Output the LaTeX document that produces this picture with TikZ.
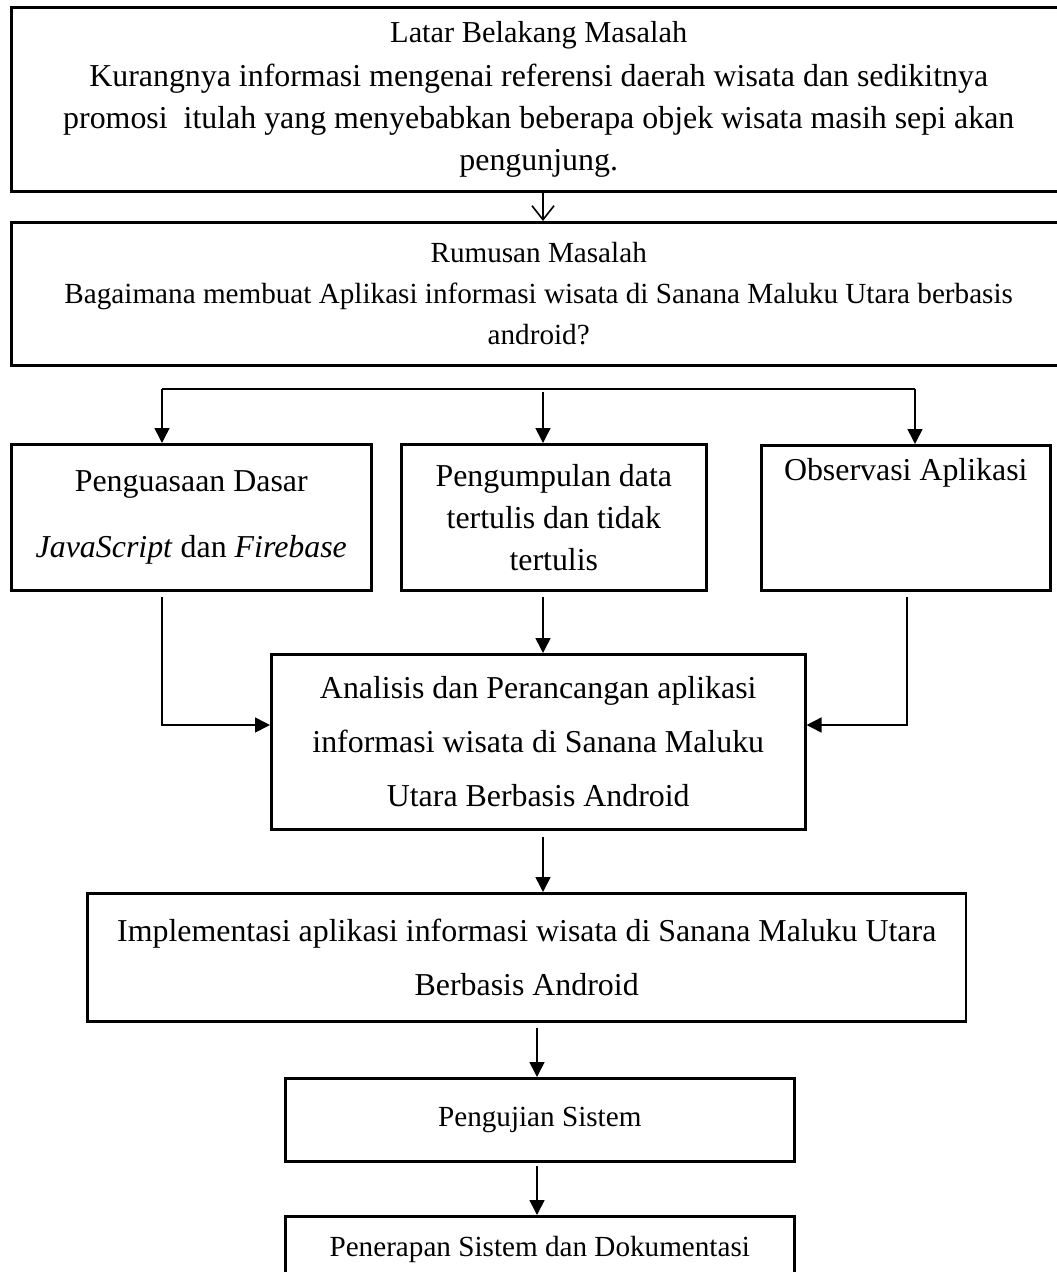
\documentclass[tikz,border=0pt]{standalone}
\usepackage{fontspec}
\setmainfont{Liberation Serif}
\usetikzlibrary{arrows.meta, positioning}

\tikzset{
  kotak/.style={draw, line width=1.5pt, inner sep=0pt, outer sep=0.75pt, anchor=north west,
    align=center, font=\fontsize{18.15}{24}\selectfont},
  kotaklebar/.style={kotak, font=\fontsize{18.15}{30.7}\selectfont},
  kotakkecil/.style={kotak, font=\fontsize{16.6}{23.4}\selectfont},
  garis/.style={line width=0.9pt},
  panah/.style={garis, -{Triangle[length=0.3cm, width=0.3cm]}},
  panahbuka/.style={garis, -{Straight Barb[length=0.28cm, width=0.44cm]}},
}

\begin{document}
\begin{tikzpicture}[x=0.02cm, y=-0.02cm]

% Ukuran halaman (1 unit = 1 px)
\useasboundingbox (0,0) rectangle (1057,1272);

% Define coordinates: pojok kiri atas setiap kotak
\coordinate (pLatar) at (10,6);
\coordinate (pRumusan) at (10,221);
\coordinate (pDasar) at (10,443);
\coordinate (pData) at (400,443);
\coordinate (pObservasi) at (760,444);
\coordinate (pAnalisis) at (270,653);
\coordinate (pImplementasi) at (86,892);
\coordinate (pPengujian) at (284,1077);
\coordinate (pPenerapan) at (284,1215);

% Kotak latar belakang dan rumusan masalah
\node[kotak, minimum width=21.1cm, minimum height=3.68cm] (latar) at (pLatar)
  {{\fontsize{17.3}{22}\selectfont Latar Belakang Masalah}\\[1pt]
   Kurangnya informasi mengenai referensi daerah wisata dan sedikitnya\\
   promosi\ \ itulah yang menyebabkan beberapa objek wisata masih sepi akan\\
   pengunjung.};
\node[kotakkecil, minimum width=21.1cm, minimum height=2.86cm] (rumusan) at (pRumusan)
  {Rumusan Masalah\\
   Bagaimana membuat Aplikasi informasi wisata di Sanana Maluku Utara berbasis\\
   android?};

% Tiga kotak tahap awal
\node[kotak, minimum width=7.2cm, minimum height=2.92cm] (dasar) at (pDasar)
  {Penguasaan Dasar\\[13.6pt] \textit{JavaScript} dan \textit{Firebase}};
\node[kotak, minimum width=6.1cm, minimum height=2.92cm] (data) at (pData)
  {Pengumpulan data\\ tertulis dan tidak\\ tertulis};
\node[kotak, minimum width=5.78cm, minimum height=2.9cm] (observasi) at (pObservasi)
  {Observasi Aplikasi\\ \strut\\ \strut};

% Analisis dan implementasi
\node[kotaklebar, minimum width=10.68cm, minimum height=3.5cm] (analisis) at (pAnalisis)
  {Analisis dan Perancangan aplikasi\\ informasi wisata di Sanana Maluku\\ Utara Berbasis Android};
\node[kotaklebar, minimum width=17.58cm, minimum height=2.56cm] (implementasi) at (pImplementasi)
  {Implementasi aplikasi informasi wisata di Sanana Maluku Utara\\ Berbasis Android};

% Pengujian dan penerapan
\node[kotakkecil, minimum width=10.18cm, minimum height=1.66cm] (pengujian) at (pPengujian)
  {Pengujian Sistem};
\node[kotakkecil, minimum width=10.18cm, minimum height=1.32cm] (penerapan) at (pPenerapan)
  {Penerapan Sistem dan Dokumentasi};

%% Panah-panah

% Latar belakang -> rumusan
\coordinate (sumbuA) at (543,0);
\draw[panahbuka] (latar.south -| sumbuA) -- (rumusan.north -| sumbuA);

% Cabang ke tiga kotak
\coordinate (busKiri) at (162,389);
\coordinate (busTengah) at (543,392);
\coordinate (busKanan) at (915,389);
\draw[garis] (busKiri) -- (busKanan);
\draw[panah] (busKiri) -- (busKiri |- dasar.north);
\draw[panah] (busTengah) -- (busTengah |- data.north);
\draw[panah] (busKanan) -- (busKanan |- observasi.north);

% Tiga kotak -> analisis
\coordinate (kiriAtas) at (162,597);
\coordinate (kiriBawah) at (162,725);
\coordinate (tengahAtas) at (543,597);
\coordinate (kananAtas) at (907,597);
\coordinate (kananBawah) at (907,725);
\draw[panah] (kiriAtas) -- (kiriBawah) -- (kiriBawah -| analisis.west);
\draw[panah] (tengahAtas) -- (tengahAtas |- analisis.north);
\draw[panah] (kananAtas) -- (kananBawah) -- (kananBawah -| analisis.east);

% Alur ke bawah
\coordinate (turun1) at (543,837);
\coordinate (turun2) at (537,1028);
\coordinate (turun3) at (537,1166);
\draw[panah] (turun1) -- (turun1 |- implementasi.north);
\draw[panah] (turun2) -- (turun2 |- pengujian.north);
\draw[panah] (turun3) -- (turun3 |- penerapan.north);

\end{tikzpicture}
\end{document}
